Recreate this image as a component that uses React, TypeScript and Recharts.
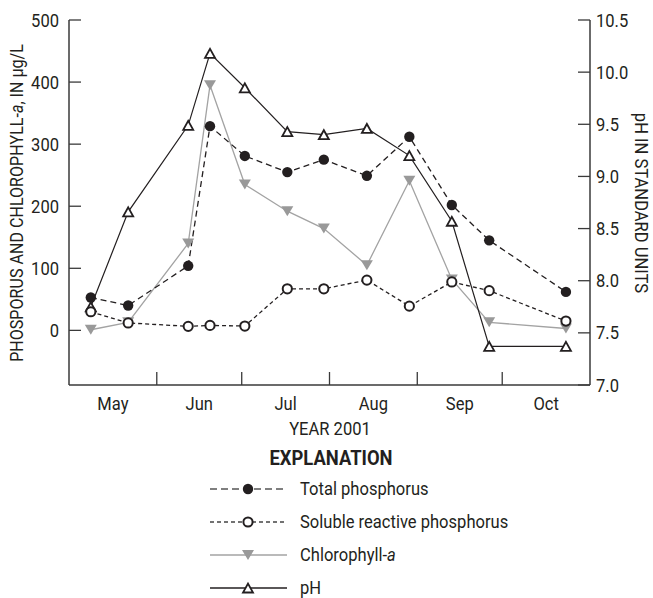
import React from 'react';
import { LineChart, Line, XAxis, YAxis } from 'recharts';

const W = 653;
const H = 598;
const FONT = 'Roboto, "Liberation Sans", sans-serif';
const SX = 0.92; // squeeze glyphs to look like a condensed face
const INK = '#231f20';
const AXIS = '#3a3a3a';
const GREY = '#a3a3a3';

// sampling days, counted in days after May 1, 2001
const sampleDays = [7.7, 20.9, 42.1, 49.8, 62.1, 77.1, 90.0, 105.2, 120.2, 135.2, 148.4, 175.5];
// micrograms per liter
const totalP = [53, 40, 104, 329, 281, 255, 275, 249, 312, 202, 145, 62];
const solubleP = [30, 12, 6.5, 8, 7, 67, 67, 81, 39, 78, 64, 15];
const chlorophyll = [1, 13, 140, 395, 235, 192, 164, 105, 241, 82, 13, 3];
// standard units
const ph = [7.75, 8.66, 9.49, 10.18, 9.85, 9.43, 9.4, 9.46, 9.2, 8.57, 7.37, 7.37];

const monthStarts = [0, 31, 61, 92, 123, 153, 184];
const monthNames = ['May', 'Jun', 'Jul', 'Aug', 'Sep', 'Oct'];
const leftTicks = [0, 100, 200, 300, 400, 500];
const rightTicks = [7, 7.5, 8, 8.5, 9, 9.5, 10, 10.5];

const legendNames = ['Total phosphorus', 'Soluble reactive phosphorus', 'Chlorophyll-', 'pH'];

const data = sampleDays.map((day, i) => ({
  day,
  tp: totalP[i],
  srp: solubleP[i],
  chl: chlorophyll[i],
  ph: ph[i],
}));

const monthMids = monthNames.map((_, i) => (monthStarts[i] + monthStarts[i + 1]) / 2);
const innerStarts = monthStarts.slice(1, -1);

// text drawn narrower than the font, like the condensed face in the original
const CText = ({ x, y, anchor = 'start', rot = 0, size = 18, weight, children }: any) => (
  <text
    transform={`translate(${x},${y}) rotate(${rot}) scale(${SX},1)`}
    textAnchor={anchor}
    fontFamily={FONT}
    fontSize={size}
    fontWeight={weight}
    fill={INK}
  >
    {children}
  </text>
);

const BottomTick = (p: any) => {
  const v = p.payload.value;
  if (innerStarts.includes(v)) {
    return <line x1={p.x} x2={p.x} y1={p.y} y2={p.y - 13} stroke={AXIS} strokeWidth={1.3} />;
  }
  return (
    <CText x={p.x} y={p.y + 25} anchor="middle">
      {monthNames[monthMids.indexOf(v)]}
    </CText>
  );
};

const TopTick = (p: any) => (
  <line x1={p.x} x2={p.x} y1={p.y} y2={p.y + 13} stroke={AXIS} strokeWidth={1.3} />
);

const LeftTick = (p: any) => (
  <g>
    <line x1={p.x} x2={p.x + 12} y1={p.y} y2={p.y} stroke={AXIS} strokeWidth={1.3} />
    <CText x={p.x - 10} y={p.y + 6.5} anchor="end">
      {p.payload.value}
    </CText>
  </g>
);

const RightTick = (p: any) => (
  <g>
    <line x1={p.x} x2={p.x - 12} y1={p.y} y2={p.y} stroke={AXIS} strokeWidth={1.3} />
    <CText x={p.x + 6} y={p.y + 6.5}>
      {Number(p.payload.value).toFixed(1)}
    </CText>
  </g>
);

const FilledDot = ({ cx, cy }: { cx: number; cy: number }) => (
  <circle cx={cx} cy={cy} r={5.2} fill={INK} />
);
const OpenDot = ({ cx, cy }: { cx: number; cy: number }) => (
  <circle cx={cx} cy={cy} r={4.6} fill="#fff" stroke={INK} strokeWidth={2} />
);
const DownTri = ({ cx, cy }: { cx: number; cy: number }) => (
  <path d={`M${cx - 6},${cy - 5} L${cx + 6},${cy - 5} L${cx},${cy + 5} Z`} fill="#999" />
);
const UpTri = ({ cx, cy }: { cx: number; cy: number }) => (
  <path d={`M${cx - 5},${cy + 4.5} L${cx + 5},${cy + 4.5} L${cx},${cy - 4.5} Z`} fill="#fff" stroke={INK} strokeWidth={1.8} />
);

const legendStyles = [
  { stroke: '#555', dash: '7 4', Dot: FilledDot },
  { stroke: '#444', dash: '4 3', Dot: OpenDot },
  { stroke: GREY, dash: undefined, Dot: DownTri },
  { stroke: INK, dash: undefined, Dot: UpTri },
];

const dotFn = (Dot: any) => (props: any) =>
  props.cx == null ? null : <Dot key={props.index} cx={props.cx} cy={props.cy} />;

export default function App() {
  return (
    <div style={{ position: 'relative', width: W, height: H, background: '#fff' }}>
      <style>{'body{margin:0}'}</style>
      <LineChart width={W} height={H} data={data} margin={{ top: 20, right: 0, bottom: 183, left: 0 }}>
        <XAxis
          xAxisId="b"
          type="number"
          dataKey="day"
          domain={[0, 184]}
          ticks={[...innerStarts, ...monthMids]}
          interval={0}
          height={30}
          tickSize={0}
          tickMargin={0}
          tickLine={false}
          tick={BottomTick}
          axisLine={{ stroke: AXIS, strokeWidth: 1.5 }}
        />
        <XAxis
          xAxisId="t"
          orientation="top"
          type="number"
          dataKey="day"
          domain={[0, 184]}
          ticks={innerStarts}
          interval={0}
          height={0}
          tickSize={0}
          tickMargin={0}
          tickLine={false}
          tick={TopTick}
          axisLine={{ stroke: AXIS, strokeWidth: 1.5 }}
        />
        <YAxis
          yAxisId="l"
          type="number"
          domain={[-88, 500]}
          ticks={leftTicks}
          interval={0}
          width={69}
          tickSize={0}
          tickMargin={0}
          tickLine={false}
          tick={LeftTick}
          axisLine={{ stroke: AXIS, strokeWidth: 1.5 }}
        />
        <YAxis
          yAxisId="r"
          orientation="right"
          type="number"
          domain={[7, 10.5]}
          ticks={rightTicks}
          interval={0}
          width={63}
          tickSize={0}
          tickMargin={0}
          tickLine={false}
          tick={RightTick}
          axisLine={{ stroke: AXIS, strokeWidth: 1.5 }}
        />
        <Line xAxisId="b" yAxisId="l" dataKey="chl" stroke={GREY} strokeWidth={1.3} dot={dotFn(DownTri)} activeDot={false} isAnimationActive={false} />
        <Line xAxisId="b" yAxisId="r" dataKey="ph" stroke={INK} strokeWidth={1.2} dot={dotFn(UpTri)} activeDot={false} isAnimationActive={false} />
        <Line xAxisId="b" yAxisId="l" dataKey="tp" stroke={INK} strokeWidth={1.3} strokeDasharray="6 4" dot={dotFn(FilledDot)} activeDot={false} isAnimationActive={false} />
        <Line xAxisId="b" yAxisId="l" dataKey="srp" stroke={INK} strokeWidth={1.3} strokeDasharray="4 3" dot={dotFn(OpenDot)} activeDot={false} isAnimationActive={false} />
      </LineChart>

      <svg width={W} height={H} style={{ position: 'absolute', left: 0, top: 0, pointerEvents: 'none' }}>
        <CText x={23} y={203} rot={-90} anchor="middle" size={17.5}>
          PHOSPORUS AND CHLOROPHYLL-<tspan fontStyle="italic">a</tspan>, IN µg/L
        </CText>
        <CText x={635} y={203} rot={90} anchor="middle">
          pH IN STANDARD UNITS
        </CText>
        <CText x={330} y={435} anchor="middle">YEAR 2001</CText>
        <CText x={331} y={465} anchor="middle" size={20} weight="bold">EXPLANATION</CText>
        {legendNames.map((name, i) => {
          const y = 489 + i * 33;
          const s = legendStyles[i];
          return (
            <g key={name}>
              <line x1={210} x2={287} y1={y} y2={y} stroke={s.stroke} strokeWidth={1.3} strokeDasharray={s.dash} />
              <s.Dot cx={248} cy={y} />
              <CText x={300} y={y + 6}>
                {name}
                {i === 2 ? <tspan fontStyle="italic">a</tspan> : null}
              </CText>
            </g>
          );
        })}
      </svg>
    </div>
  );
}
